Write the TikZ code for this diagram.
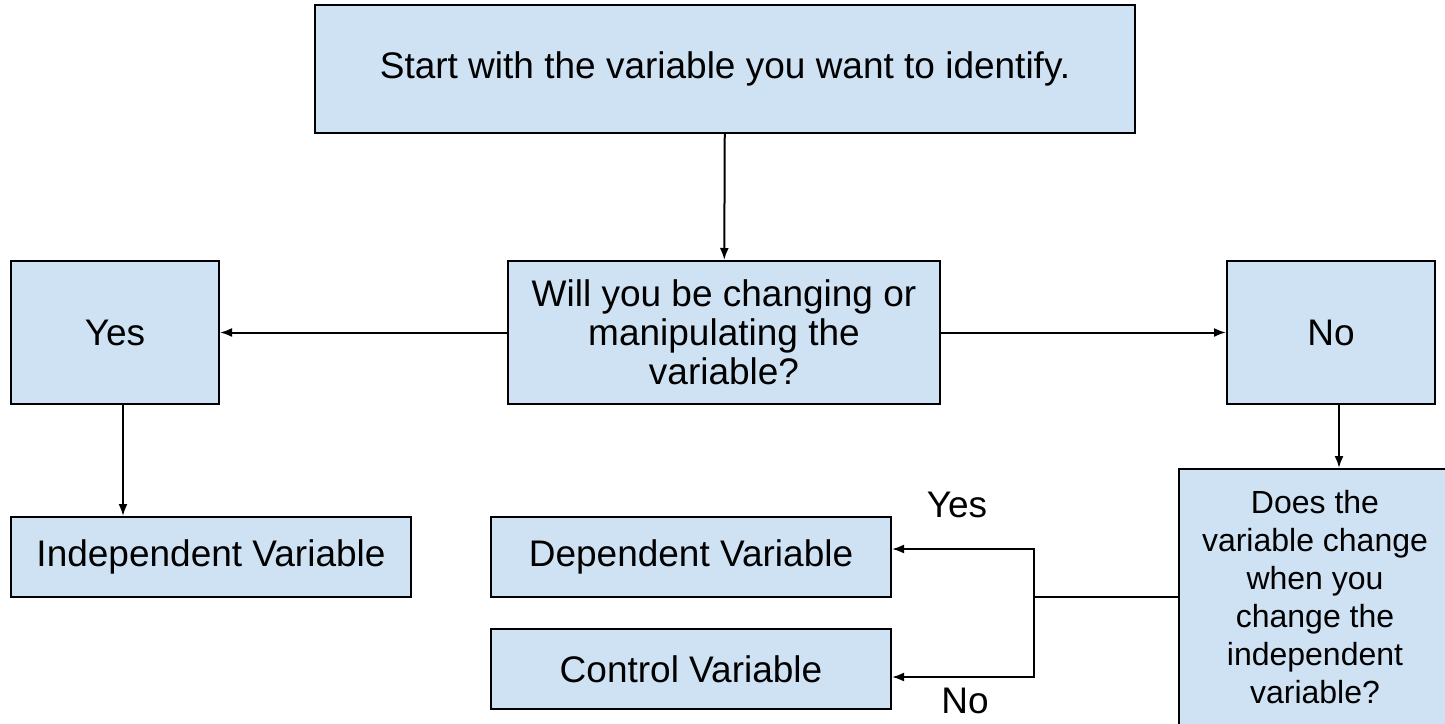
\documentclass[tikz,border=0pt]{standalone}
\usepackage{fontspec}
\setmainfont{Liberation Sans}
\usetikzlibrary{arrows.meta}
\definecolor{boxblue}{HTML}{CFE2F3}

\begin{document}
\begin{tikzpicture}[x=0.5pt,y=-0.5pt,
  box/.style={draw=black,line width=1pt,fill=boxblue,align=center,inner sep=2pt,
    font=\fontsize{18.5}{19.5}\selectfont},
  arr/.style={line width=1pt,-{Latex[length=6pt,width=4.5pt]}},
  lbl/.style={font=\fontsize{18.5}{19.5}\selectfont}]
\useasboundingbox (0,0) rectangle (1445,723);
% boxes
\node[box,minimum width=410pt,minimum height=64pt] (start) at (725,69) {Start with the variable you want to identify.};
\node[box,minimum width=216pt,minimum height=71.5pt] (ask) at (724,332.5) {Will you be changing or\\manipulating the\\variable?};
\node[box,minimum width=104pt,minimum height=71.5pt] (yes) at (115,332.5) {Yes};
\node[box,minimum width=104pt,minimum height=71.5pt] (no) at (1331,332.5) {No};
\node[box,minimum width=200pt,minimum height=40pt] (indep) at (211,557) {Independent Variable};
\node[box,minimum width=200pt,minimum height=40pt] (dep) at (691,557) {Dependent Variable};
\node[box,minimum width=200pt,minimum height=40pt] (ctrl) at (691,669) {Control Variable};
\node[box,minimum width=136pt,minimum height=128pt,font=\fontsize{16}{19}\selectfont] (does) at (1315,597) {Does the\\variable change\\when you\\change the\\independent\\variable?};
% labels on the split
\node[lbl] (lyes) at (957,505) {Yes};
\node[lbl] (lno) at (965,701) {No};
\coordinate (split) at (1034,597);
% connectors
\draw[arr] (start) -- (ask);
\draw[arr] (ask) -- (yes);
\draw[arr] (ask) -- (no);
\draw[arr] ([xshift=4pt]yes.south) -- ([xshift=4pt]yes.south |- indep.north);
\draw[arr] ([xshift=4pt]no.south) -- ([xshift=4pt]no.south |- does.north);
\draw[line width=1pt] (does.west) -- (split);
\draw[arr] (split) |- ([yshift=4pt]dep.east);
\draw[arr] (split) |- ([yshift=-4pt]ctrl.east);
\end{tikzpicture}
\end{document}
